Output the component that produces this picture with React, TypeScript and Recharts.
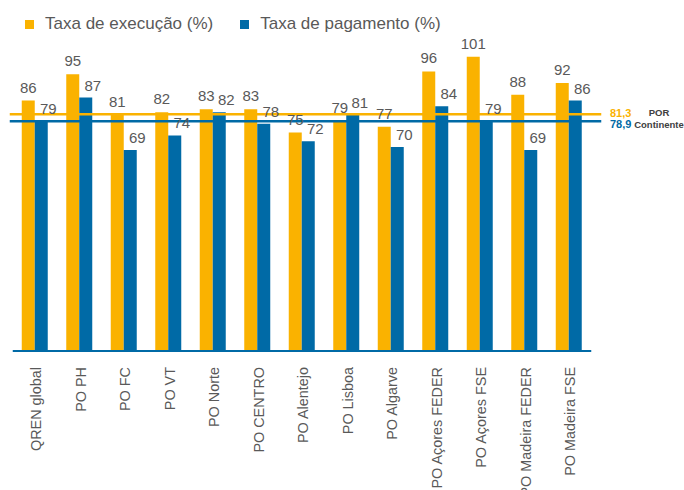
import { BarChart, Bar, XAxis, YAxis, ReferenceLine, LabelList } from "recharts";

const categories = [
  "QREN global",
  "PO PH",
  "PO FC",
  "PO VT",
  "PO Norte",
  "PO CENTRO",
  "PO Alentejo",
  "PO Lisboa",
  "PO Algarve",
  "PO Açores FEDER",
  "PO Açores FSE",
  "PO Madeira FEDER",
  "PO Madeira FSE",
];
const execucao = [86, 95, 81, 82, 83, 83, 75, 79, 77, 96, 101, 88, 92];
const pagamento = [79, 87, 69, 74, 82, 78, 72, 81, 70, 84, 79, 69, 86];
const porExecucao = 81.3;
const porPagamento = 78.9;

const YELLOW = "#FAB200";
const BLUE = "#006AA6";
const GREY = "#595959";
const FONT = "'Liberation Sans', Arial, sans-serif";

const data = categories.map((name, i) => ({
  name,
  execucao: execucao[i],
  pagamento: pagamento[i],
}));

function CategoryTick({ x, y, payload }: any) {
  return (
    <text
      transform={`translate(${x + 1},${y + 8}) rotate(-90)`}
      textAnchor="end"
      dy="0.35em"
      fontSize={14.4}
      fill={GREY}
      fontFamily={FONT}
    >
      {payload.value}
    </text>
  );
}

function porLine(color: string, value: string, caption: string, textDy: number) {
  return (p: any) => (
    <g>
      <line x1={p.x1 - 3} y1={p.y1} x2={p.x2 + 10} y2={p.y2} stroke={color} strokeWidth={2.5} />
      <text
        x={610}
        y={p.y1 + textDy}
        dy="0.35em"
        fontSize={11}
        fontWeight="bold"
        fill={color}
        fontFamily={FONT}
      >
        {value}
      </text>
      <text
        x={659}
        y={p.y1 + textDy}
        dy="0.35em"
        textAnchor="middle"
        fontSize={9.5}
        fontWeight="bold"
        fill="#404040"
        fontFamily={FONT}
      >
        {caption}
      </text>
    </g>
  );
}

function Legend() {
  const item = (color: string, label: string, gap: number) => (
    <div style={{ display: "flex", alignItems: "center", marginRight: gap }}>
      <span style={{ width: 9, height: 9, background: color, marginRight: 11, display: "inline-block" }} />
      <span>{label}</span>
    </div>
  );
  return (
    <div
      style={{
        position: "absolute",
        left: 25,
        top: 14,
        display: "flex",
        fontFamily: FONT,
        fontSize: 17,
        color: GREY,
        whiteSpace: "nowrap",
      }}
    >
      {item(YELLOW, "Taxa de execução (%)", 27)}
      {item(BLUE, "Taxa de pagamento (%)", 0)}
    </div>
  );
}

export default function App() {
  return (
    <div style={{ position: "absolute", left: 0, top: 0, width: 684, height: 490, background: "#fff" }}>
      <Legend />
      <BarChart
        width={684}
        height={490}
        data={data}
        margin={{ top: 30.6, right: 92.75, bottom: 0, left: 12.75 }}
        barGap={0}
        barSize={13}
      >
        <XAxis
          dataKey="name"
          interval={0}
          height={139}
          tickLine={false}
          axisLine={{ stroke: BLUE, strokeWidth: 2 }}
          tick={<CategoryTick />}
        />
        <YAxis hide domain={[0, 110]} />
        <Bar dataKey="execucao" fill={YELLOW} isAnimationActive={false}>
          <LabelList
            dataKey="execucao"
            position="top"
            offset={8}
            fontSize={15}
            fill={GREY}
            fontFamily={FONT}
          />
        </Bar>
        <Bar dataKey="pagamento" fill={BLUE} isAnimationActive={false}>
          <LabelList
            dataKey="pagamento"
            position="top"
            offset={7}
            dx={7}
            fontSize={15}
            fill={GREY}
            fontFamily={FONT}
          />
        </Bar>
        <ReferenceLine y={porExecucao} shape={porLine(YELLOW, "81,3", "POR", -1.5)} />
        <ReferenceLine y={porPagamento} shape={porLine(BLUE, "78,9", "Continente", 3)} />
      </BarChart>
    </div>
  );
}
